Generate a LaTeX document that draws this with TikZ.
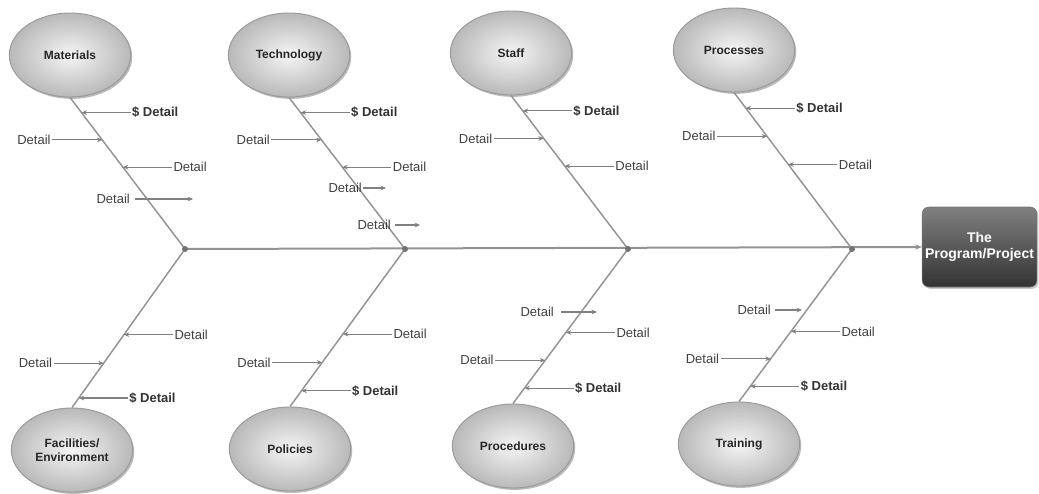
\documentclass[tikz,border=0pt]{standalone}
\usepackage{fontspec}
\setmainfont{Liberation Sans}
\usetikzlibrary{calc,shadows,arrows.meta,shapes.geometric}
\begin{document}
\begin{tikzpicture}[x=0.75pt,y=-0.75pt,
  cause/.style={ellipse, minimum width=91pt, minimum height=63pt, shading=radial,
    inner color=gray!8, outer color=gray!55, draw=gray!80, line width=0.7pt,
    drop shadow={shadow xshift=1.2pt,shadow yshift=-1.4pt,opacity=0.55},
    font=\bfseries\fontsize{9}{10.5}\selectfont, text=black!85, align=center, inner sep=0pt},
  eff/.style={rectangle, rounded corners=5pt, minimum width=86pt, minimum height=60pt,
    top color=black!50, bottom color=black!80, draw=black!55, text=white,
    font=\bfseries\fontsize{10.5}{12.5}\selectfont, align=center, inner sep=1pt,
    drop shadow={shadow xshift=1.2pt,shadow yshift=-1.4pt,opacity=0.45}},
  bone/.style={draw=gray!85, line width=1.1pt},
  spine/.style={draw=gray!85, line width=1.5pt, -{Stealth[length=5pt,width=4pt]}},
  det/.style={font=\fontsize{9.75}{11}\selectfont, text=black!75, inner sep=1pt},
  sdet/.style={det, font=\bfseries\fontsize{9.75}{11}\selectfont, text=black!80},
  darr/.style={draw=black!50, line width=0.8pt, -{Stealth[length=4pt,width=3.5pt]}},
  joint/.style={fill=black!55},
]
\useasboundingbox (0,0) rectangle (1039,493);

% cause nodes
\node[cause] (mat) at (70,55) {Materials};
\node[cause] (tec) at (289,55) {Technology};
\node[cause] (stf) at (511,53) {Staff};
\node[cause] (prc) at (734,50) {Processes};
\node[cause] (fac) at (72,450) {Facilities/\\Environment};
\node[cause] (pol) at (290,449) {Policies};
\node[cause] (pcd) at (513,446) {Procedures};
\node[cause] (trn) at (739,444) {Training};

% effect
\node[eff] (eff) at (979.5,247) {The\\Program/Project};

% joints
\coordinate (j1) at (185,249);
\coordinate (j2) at (405,249);
\coordinate (j3) at (628,249);
\coordinate (j4) at (852,249);

% spine
\draw[spine] (j1) -- (eff.west);

% bones
\foreach \e/\j in {mat/j1,tec/j2,stf/j3,prc/j4}{
  \draw[bone] (\e.south) -- (\j);
}
\foreach \e/\j in {fac/j1,pol/j2,pcd/j3,trn/j4}{
  \draw[bone] (\e.north) -- (\j);
}
\foreach \j in {j1,j2,j3,j4}{
  \fill[joint] (\j) circle (3);
}

% top details
\foreach \e/\j in {mat/j1,tec/j2,stf/j3,prc/j4}{
  \coordinate (\e-a) at ($(\e.south)!0.10!(\j)$);
  \coordinate (\e-b) at ($(\e.south)!0.28!(\j)$);
  \coordinate (\e-c) at ($(\e.south)!0.46!(\j)$);
  \node[sdet,anchor=west] (\e-ta) at ([shift={(49,0)}]\e-a) {\$ Detail};
  \node[det,anchor=east] (\e-tb) at ([shift={(-50,0)}]\e-b) {Detail};
  \node[det,anchor=west] (\e-tc) at ([shift={(49,0)}]\e-c) {Detail};
  \draw[darr] (\e-ta.west) -- (\e-a);
  \draw[darr] (\e-tb.east) -- (\e-b);
  \draw[darr] (\e-tc.west) -- (\e-c);
}

% bottom details
\foreach \e/\j/\f in {fac/j1/0.06,pol/j2/0.10,pcd/j3/0.10,trn/j4/0.10}{
  \coordinate (\e-a) at ($(\e.north)!\f!(\j)$);
  \coordinate (\e-b) at ($(\e.north)!0.28!(\j)$);
  \coordinate (\e-c) at ($(\e.north)!0.46!(\j)$);
  \node[sdet,anchor=west] (\e-ta) at ([shift={(49,0)}]\e-a) {\$ Detail};
  \node[det,anchor=east] (\e-tb) at ([shift={(-50,0)}]\e-b) {Detail};
  \node[det,anchor=west] (\e-tc) at ([shift={(49,0)}]\e-c) {Detail};
  \draw[darr] (\e-ta.west) -- (\e-a);
  \draw[darr] (\e-tb.east) -- (\e-b);
  \draw[darr] (\e-tc.west) -- (\e-c);
}

% loose detail arrows
\node[det,anchor=west] (mx) at (95,199) {Detail};
\coordinate (mxe) at (193,199);
\draw[darr] ([xshift=3pt]mx.east) -- (mxe);

\node[det,anchor=west] (tx1) at (327,188) {Detail};
\coordinate (tx1e) at (386,188);
\draw[darr] (tx1.east) -- (tx1e);

\node[det,anchor=west] (tx2) at (356,225) {Detail};
\coordinate (tx2e) at (420,225);
\draw[darr] ([xshift=2pt]tx2.east) -- (tx2e);

\node[det,anchor=west] (px) at (519,312) {Detail};
\coordinate (pxe) at (597,312);
\draw[darr] ([xshift=4pt]px.east) -- (pxe);

\node[det,anchor=west] (rx) at (736,310) {Detail};
\coordinate (rxe) at (802,310);
\draw[darr] ([xshift=2pt]rx.east) -- (rxe);

\end{tikzpicture}
\end{document}
